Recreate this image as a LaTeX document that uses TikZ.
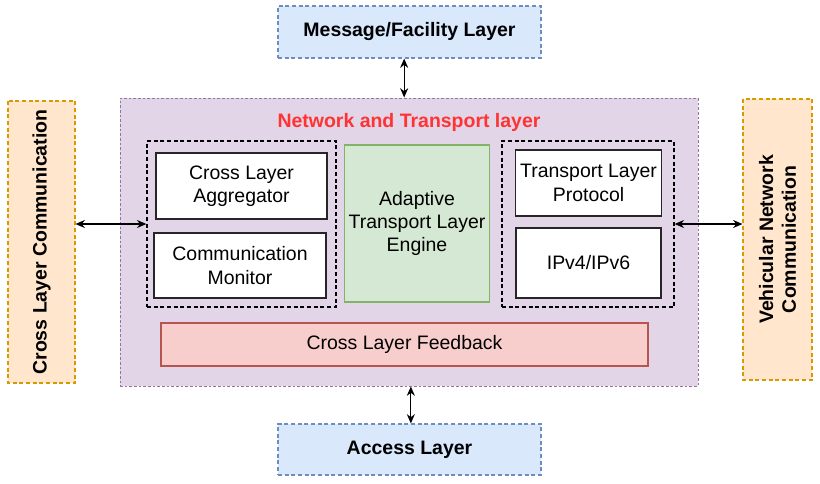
\documentclass[tikz,border=0pt]{standalone}
\usepackage{fontspec}
\setmainfont{Liberation Sans}
\usepackage{tikz}
\usetikzlibrary{positioning,shapes,arrows,arrows.meta,backgrounds,fit}
\definecolor{layerblue}{HTML}{DAE8FC}
\definecolor{layerblueline}{HTML}{6C8EBF}
\definecolor{netpurple}{HTML}{E1D5E7}
\definecolor{netpurpleline}{HTML}{9673A6}
\definecolor{sideorange}{HTML}{FFE6CC}
\definecolor{sideorangeline}{HTML}{D79B00}
\definecolor{enginegreen}{HTML}{D5E8D4}
\definecolor{enginegreenline}{HTML}{82B366}
\definecolor{feedbackred}{HTML}{F8CECC}
\definecolor{feedbackredline}{HTML}{B85450}
\definecolor{titlered}{HTML}{FF3333}

\begin{document}
\begin{tikzpicture}[
    x=0.75pt, y=-0.75pt,
    font=\fontsize{14.6}{17.5}\selectfont,
    outerlayer/.style={rectangle, draw=layerblueline, fill=layerblue, dash pattern=on 3pt off 2pt, line width=0.8pt, minimum width=197.25pt, font=\fontsize{14.6}{17.5}\selectfont\bfseries},
    sidebox/.style={rectangle, draw=sideorangeline, fill=sideorange, dash pattern=on 3pt off 2pt, line width=0.8pt, rotate=90, align=center, font=\fontsize{14.6}{17}\selectfont\bfseries},
    group/.style={rectangle, draw=black, dash pattern=on 3pt off 2pt, line width=1pt, minimum height=124.5pt},
    module/.style={rectangle, draw=black!85, fill=white, line width=0.8pt, align=center},
    arrow/.style={{Stealth[length=7pt,width=6pt]}-{Stealth[length=7pt,width=6pt]},line width=0.9pt}
]
\useasboundingbox (0,0) rectangle (820,483);

% Network and Transport layer
\node[rectangle, draw=netpurpleline, fill=netpurple, dash pattern=on 2pt off 1.5pt, line width=0.7pt, minimum width=433.5pt, minimum height=216pt] (net) at (409,242) {};
\node[text=titlered, font=\fontsize{14.6}{17.5}\selectfont\bfseries] (title) at (409,122.5) {Network and Transport layer};

% Upper and lower layers
\node[outerlayer, minimum height=39pt] (msg) at (409.5,32) {Message/Facility Layer};
\node[outerlayer, minimum height=38.25pt] (acc) at (409.5,449.5) {Access Layer};

% Side communication
\node[sidebox, minimum width=211.5pt, minimum height=50.25pt] (crosscomm) at (41.5,242) {Cross Layer Communication};
\node[sidebox, minimum width=210.75pt, minimum height=51.75pt] (vehcomm) at (777.5,239.5) {Vehicular Network\\Communication};

% Left group
\node[group, minimum width=141.75pt] (leftgrp) at (241.5,224) {};
\node[module, minimum width=128.25pt, minimum height=49.5pt] (agg) at (241.5,186) {Cross Layer\\Aggregator};
\node[module, minimum width=129pt, minimum height=48.75pt] (mon) at (240,265.5) {Communication\\Monitor};

% Engine
\node[rectangle, draw=enginegreenline, fill=enginegreen, line width=0.8pt, align=center, minimum width=108pt, minimum height=117.75pt] (engine) at (417,223.5) {Adaptive\\Transport Layer\\Engine};

% Right group
\node[group, minimum width=129pt] (rightgrp) at (588,224) {};
\node[module, minimum width=108.75pt, minimum height=49.5pt] (proto) at (588.5,183) {Transport Layer\\Protocol};
\node[module, minimum width=108.75pt, minimum height=52.5pt] (ip) at (588.5,263) {IPv4/IPv6};

% Feedback
\node[rectangle, draw=feedbackredline, fill=feedbackred, line width=0.8pt, minimum width=365.25pt, minimum height=32.25pt] (feedback) at (404.5,344.5) {Cross Layer Feedback};

% Connections
\draw[arrow] ([xshift=-4pt]msg.south) -- ([xshift=-4pt]msg.south |- net.north);
\draw[arrow] ([xshift=1pt]acc.north |- net.south) -- ([xshift=1pt]acc.north);
\draw[arrow] (crosscomm.south |- leftgrp.west) -- (leftgrp.west);
\draw[arrow] (rightgrp.east) -- (vehcomm.north |- rightgrp.east);

\end{tikzpicture}
\end{document}
